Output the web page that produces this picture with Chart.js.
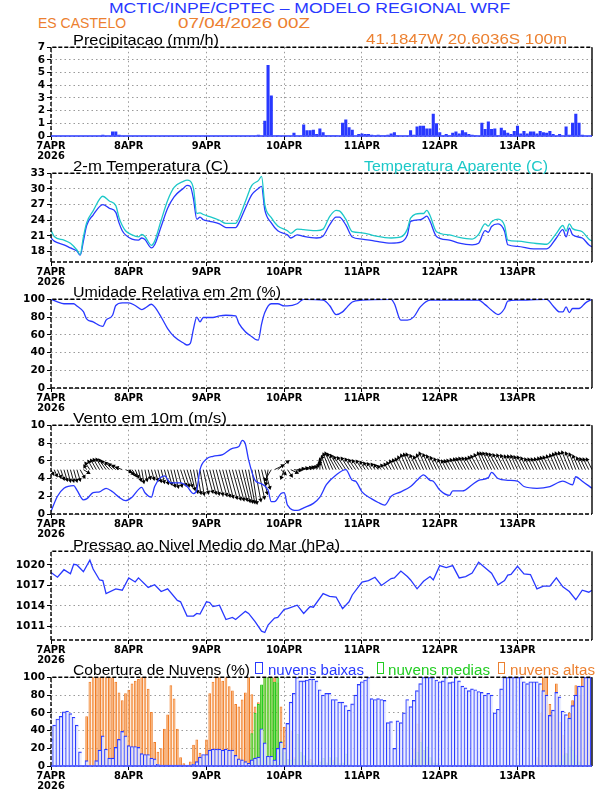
<!DOCTYPE html>
<html>
<head>
<meta charset="utf-8">
<script src="https://cdn.jsdelivr.net/npm/chart.js@4.4.1/dist/chart.umd.min.js"></script>
<style>
body { margin:0; background:#fff; width:612px; height:792px; position:relative; overflow:hidden; }
canvas { position:absolute; left:0; }
.t { position:absolute; white-space:nowrap; font-family:'Liberation Sans', sans-serif; transform-origin:0 50%; line-height:1; z-index:5; }
.box { position:absolute; border:1.5px solid; box-sizing:border-box; z-index:5; }
</style>
</head>
<body>
<script>
// x axis: hours since 07/04/2026 00Z
const dayTicks = [0, 24, 48, 72, 96, 120, 144];
const dayLabels = ['7APR', '8APR', '9APR', '10APR', '11APR', '12APR', '13APR'];
const yearLabel = '2026';

// precipitacao (mm/h), hourly 0..167
const precip = [
  0,0,0,0,0,0,0,0,0,0,0,0,0,0,0,0,0.1,0,0,0.35,0.35,0.1,0,0,
  0,0,0,0,0,0,0,0,0,0,0,0,0,0,0,0,0,0,0,0,0,0,0,0,
  0,0,0,0,0,0,0,0,0,0,0,0,0,0,0,0,0.1,0,1.2,5.6,3.2,0,0.05,0,
  0,0,0,0.25,0,0,0.9,0.45,0.45,0.5,0.15,0.6,0.3,0.05,0.05,0.05,0.05,0,1.05,1.3,0.7,0.5,0,0.15,
  0.2,0.15,0.15,0.1,0.05,0.1,0.05,0.05,0.1,0.2,0.3,0.05,0,0,0,0.45,0.1,0.75,0.8,0.8,0.6,0.6,1.75,1.0,
  0.3,0.05,0.15,0.05,0.25,0.35,0.2,0.45,0.3,0.15,0.1,0.05,0,1.05,0.55,1.15,0.55,0.6,0.05,0.65,0.45,0.25,0.15,0.4,
  0.8,0.2,0.4,0.2,0.35,0.35,0.2,0.4,0.3,0.25,0.4,0.15,0,0.15,0,0.75,0.1,1.05,1.75,1.05,0.1,0,0,0
];

// temperatura 2m e aparente (C)
const tempHours = [0,1,4,6,8,9,10,11,13,16,18,20,21,22,23,25,27,28,29,31,32,34,36,38,41,42,43,44,45,46,47,49,52,54,57,58,60,62,64,65,66,68,70,73,74,76,78,82,84,86,88,89,91,93,96,100,105,108,110,111,114,115,116,117,119,123,126,130,132,134,135,136,138,140,141,144,149,153,156,158,159,160,161,164,166,167];
const temp2m = [20.6,20.0,19.3,18.7,18.1,17.3,20.0,23.0,25.0,27.0,26.3,25.5,23.5,22.0,21.2,20.4,20.2,20.6,20.3,18.7,19.3,22.8,26.3,28.5,30.2,30.7,30.5,28.0,24.2,24.6,24.1,23.8,23.3,22.6,22.6,23.5,26.3,28.9,30.1,30.5,26.0,23.5,22.0,21.2,20.6,21.2,20.9,20.6,21.0,23.1,24.6,24.6,23.1,20.8,20.4,20.0,19.6,19.8,21.2,23.8,24.1,24.4,24.8,23.8,20.9,20.2,19.6,19.3,19.6,22.0,21.7,22.8,23.3,21.9,19.3,19.0,18.5,18.5,20.6,22.2,20.8,22.5,21.2,20.6,19.3,18.9];
const tempAparente = [22.1,20.9,20.2,19.6,18.3,17.4,20.8,23.5,25.8,28.6,27.7,26.8,24.5,23.0,22.0,21.2,20.8,21.3,20.9,19.2,20.0,24.0,27.8,30.3,31.5,31.7,31.5,30.0,25.3,25.4,25.1,24.7,24.0,23.4,23.4,24.4,27.6,30.7,31.6,32.4,27.0,24.5,22.9,22.0,21.5,22.3,22.2,22.0,22.3,24.7,25.9,25.8,24.2,21.8,21.6,21.0,20.6,20.8,22.3,24.4,25.3,25.3,25.9,24.9,21.8,21.2,20.7,20.4,21.3,23.3,22.9,23.7,24.2,23.0,20.2,20.0,19.6,19.4,21.5,23.0,21.9,23.3,22.4,21.8,20.4,20.0];

// umidade relativa (%)
const rhHours = [0,2,4,7,8,10,11,13,16,17,19,20,22,24,26,28,29,31,32,34,36,38,41,42,43,44,45,46,47,50,52,54,57,58,60,62,63,64,65,66,68,70,72,73,76,78,84,86,88,90,91,93,96,105,106,108,110,112,114,117,124,132,134,136,138,140,141,144,153,155,157,158,159,160,161,163,165,167];
const rh2m = [100,97,95,95,92.5,86,78,74.6,69.5,76.5,82,93,96,96,93,88.4,90,94.4,91.4,80,67,58,50.4,48.5,50.4,67,80,74.6,79.5,79.5,81.3,82,81.3,72.8,63.4,57.8,55,54,72,85,95,95,92.5,92.5,95,100,99,93,82.8,85.8,89.6,97,99,100,95,76.5,76.5,80.2,91.4,99,99,99,94,87.7,82.8,89.6,98,99,100,92.5,85.8,85.8,91.4,85,89.6,89.6,96,100];

// vento 10m: velocidade (m/s)
const windHours = [0,2,4,7,8,10,11,13,15,17,19,21,23,25,28,29,31,32,35,37,40,42,44,45,46,48,50,53,56,58,59,60,61,63,65,67,68,69,71,72,73,76,78,81,83,85,88,91,93,94,96,99,101,103,105,108,111,113,115,117,118,120,123,124,127,130,132,135,136,138,141,144,146,150,154,158,161,162,164,167];
const windSpeed = [0.3,2.0,2.9,3.2,2.7,1.6,1.7,2.4,2.5,2.9,2.5,1.9,1.5,1.9,3.0,2.4,1.9,3.1,4.3,3.5,3.5,3.1,2.3,2.7,5.0,6.2,6.5,6.7,7.4,7.6,8.3,7.9,6.1,3.8,3.4,2.7,1.4,1.4,2.3,2.4,1.0,0.4,0.7,1.2,1.9,3.3,4.4,5.0,3.8,3.7,2.5,1.7,1.3,1.0,2.0,2.5,3.1,3.8,4.4,3.8,3.7,2.7,2.1,2.6,2.6,3.3,3.8,4.1,4.7,4.0,3.8,3.7,3.1,2.9,3.1,3.7,3.3,4.2,3.7,2.9];

// vento 10m: componentes dos vetores (m/s), hourly 0..167
const windU = [
  0.5,0.6,0.75,0.75,0.75,0.75,0.75,0.75,0.75,1.0,1.25,-0.5,-1.0,-1.1,-1.25,-1.4,-1.5,-1.6,-1.75,-1.6,-1.5,-1.4,-1.25,1.2,
  1.0,0.9,0.75,0.6,0.5,0.5,0.5,0.6,0.75,0.75,0.75,0.9,1.0,1.0,1.0,1.1,1.25,1.25,1.25,1.1,1.0,1.0,1.0,1.25,
  1.5,1.5,1.5,1.6,1.75,1.75,1.75,1.9,2.0,2.0,2.0,1.9,1.75,1.5,1.25,1.4,1.5,1.4,1.25,-0.5,-1.5,2.0,2.5,1.0,
  -0.75,1.0,1.5,1.5,1.5,1.6,1.75,1.6,1.5,1.2,0.75,0.0,-0.75,-1.1,-1.5,-1.8,-2.0,-2.0,-2.0,-1.9,-1.75,-1.6,-1.5,-1.4,
  -1.25,-1.1,-1.0,-0.9,-0.75,-0.75,-0.75,-0.75,-0.75,-0.9,-1.0,-1.1,-1.25,-1.4,-1.5,-1.6,-1.75,-1.6,-1.5,-1.6,-1.75,-1.6,-1.5,-1.4,
  -1.25,-1.1,-1.0,-1.1,-1.25,-1.25,-1.25,-1.4,-1.5,-1.5,-1.5,-1.6,-1.75,-1.75,-1.75,-1.9,-2.0,-2.0,-2.0,-1.9,-1.75,-1.6,-1.5,-1.5,
  -1.5,-1.5,-1.5,-1.4,-1.25,-1.25,-1.25,-1.25,-1.25,-1.4,-1.5,-1.5,-1.5,-1.6,-1.75,-1.75,-1.75,-1.6,-1.5,-1.4,-1.25,-1.25,-1.25,-1.25
];
const windV = [
  -1.0,-1.4,-1.75,-2.2,-2.5,-2.7,-2.75,-2.7,-2.5,-1.8,-0.75,0.8,1.5,2.0,2.25,2.4,2.5,2.3,2.0,1.6,1.25,0.9,0.5,-0.5,
  -1.0,-1.4,-1.75,-2.5,-3.0,-2.5,-2.0,-2.2,-2.5,-2.8,-3.0,-3.3,-3.5,-4.0,-4.25,-4.0,-3.75,-3.9,-4.0,-4.8,-5.5,-5.8,-6.0,-5.7,
  -5.5,-5.8,-6.0,-6.1,-6.25,-6.5,-6.75,-7.0,-7.25,-7.4,-7.5,-7.8,-8.0,-8.1,-8.25,-7.6,-7.0,-5.8,-4.5,-3.5,-2.5,1.0,2.0,-1.0,
  -2.0,-1.5,-0.75,-0.2,0.25,0.4,0.5,0.6,0.75,1.1,1.5,2.0,2.5,3.1,3.75,4.0,3.75,3.4,3.0,2.9,2.75,2.5,2.25,2.1,
  2.0,1.75,1.5,1.4,1.25,1.0,0.75,1.0,1.25,1.6,2.0,2.25,2.5,3.0,3.5,3.7,3.75,3.4,3.0,3.5,4.0,3.6,3.25,2.9,
  2.5,2.25,2.0,2.1,2.25,2.4,2.5,2.6,2.75,2.75,2.75,3.0,3.25,3.6,4.0,4.0,4.0,3.9,3.75,3.6,3.5,3.4,3.25,3.25,
  3.25,3.1,3.0,2.75,2.5,2.5,2.5,2.6,2.75,2.9,3.0,3.25,3.5,3.75,4.0,4.1,4.25,4.0,3.75,3.25,2.75,2.6,2.5,2.5
];

// pressao ao nivel medio do mar (hPa)
const presHours = [0,2,4,6,7,8,10,12,13,15,16,17,20,22,24,26,27,30,32,34,36,39,40,42,44,45,46,48,49,50,52,54,56,57,60,61,63,65,66,67,69,70,72,73,76,78,80,81,84,86,88,90,92,93,96,98,100,102,105,106,108,110,111,113,115,117,118,120,122,124,126,128,130,132,134,136,138,140,141,142,144,146,148,150,152,154,156,158,160,162,164,166,167];
const pressure = [1018.9,1018.2,1019.3,1018.7,1020.1,1020.0,1019.0,1020.7,1019.4,1017.8,1017.7,1015.8,1016.5,1016.3,1018.1,1017.5,1018.1,1016.7,1017.1,1016.1,1016.5,1014.8,1014.6,1012.5,1012.5,1012.9,1012.8,1014.6,1014.5,1013.9,1014.1,1012.0,1012.3,1012.0,1013.2,1012.9,1011.7,1010.3,1010.1,1011.2,1012.2,1012.3,1013.5,1013.6,1014.1,1012.9,1013.9,1013.8,1015.8,1015.4,1015.3,1013.6,1014.6,1015.6,1017.5,1017.7,1018.2,1017.0,1018.0,1018.1,1019.1,1018.3,1017.8,1016.5,1017.6,1018.3,1017.8,1019.9,1019.6,1019.9,1018.1,1018.3,1018.8,1020.4,1019.6,1018.8,1017.1,1017.7,1018.5,1018.6,1019.8,1018.7,1018.6,1016.5,1016.9,1016.9,1018.1,1016.8,1016.1,1014.9,1016.3,1016.0,1016.3];

// cobertura de nuvens (%), hourly 0..167
const cloudLow = [
  30,46,53,56,61,62,59,55,46,16,0,6,0,0,6,18,34,19,9,9,21,30,39,34,
  23,22,22,21,14,13,13,9,8,2,1,1,1,1,1,1,1,1,1,1,2,5,10,13,
  13,18,19,19,19,18,19,18,18,12,8,7,5,3,7,9,10,42,26,11,11,7,20,27,
  20,48,72,82,100,96,96,97,98,98,96,86,80,82,82,75,75,72,72,68,63,70,80,92,
  95,97,100,76,75,76,75,74,49,50,20,51,49,60,75,67,74,85,93,100,100,100,100,97,
  95,96,100,94,95,100,96,90,88,85,87,86,84,83,80,82,80,60,64,87,100,100,100,100,
  100,100,95,93,95,95,95,93,85,80,57,63,83,78,62,58,54,68,80,90,90,100,100,100
];
const cloudMid = [
  0,0,0,0,0,0,0,0,0,0,0,0,0,0,0,0,0,0,0,0,0,0,0,0,
  0,0,0,0,0,0,0,0,0,0,0,0,0,0,0,0,0,0,0,0,0,0,0,0,
  0,0,0,0,0,0,0,0,0,0,0,0,0,0,37,60,70,92,100,100,100,95,100,28,
  16,8,7,8,36,16,12,6,4,3,2,5,9,4,10,5,10,3,4,14,2,0,0,0,
  0,0,0,0,0,0,0,0,0,0,0,0,0,0,0,3,8,16,27,18,22,10,4,3,
  0,0,0,0,0,0,0,0,0,3,3,0,0,0,0,0,0,0,0,0,0,0,0,0,
  0,0,0,0,0,0,0,0,0,0,0,0,3,5,12,14,22,18,12,5,0,0,0,0
];
const cloudHigh = [
  0,0,0,0,0,0,0,0,0,0,0,56,95,100,100,100,100,100,100,100,95,83,74,82,
  86,93,96,98,100,100,87,61,27,16,20,42,58,91,76,42,10,3,0,5,24,30,15,12,
  30,82,95,100,100,96,100,90,85,70,67,75,83,100,81,67,72,91,100,100,100,100,94,67,
  44,8,40,10,0,0,0,0,8,0,0,0,0,0,0,7,0,0,0,0,0,0,0,0,
  0,0,0,0,0,0,0,0,0,0,0,0,0,0,0,0,20,48,38,18,5,0,0,0,
  0,0,0,0,0,0,0,0,0,0,0,0,0,0,0,0,0,0,0,0,0,0,0,0,
  0,0,0,0,0,0,10,60,100,100,70,58,93,50,35,15,60,74,91,80,100,100,100,60
];

const BLUE = 'rgb(40,56,255)';
const CYAN = 'rgb(28,200,200)';
const ORANGE = 'rgb(236,128,48)';
const GREEN = 'rgb(34,205,34)';

const PANEL_TOPS = [47, 173, 299, 425, 551, 677];
const PLOT_H = 89, PAD_T = 8, AXIS_H = 30, Y_W = 51, PAD_R = 20;
const X_MAX = 167;
const xFont = { family: "'Liberation Sans Narrow','DejaVu Sans Condensed',sans-serif", size: 11, weight: 'bold', lineHeight: 0.92 };
const yFont = { family: "'DejaVu Sans',sans-serif", size: 10.5, weight: 'bold' };

const framePlugin = {
  id: 'frame',
  afterDraw(chart, args, opts) {
    const ctx = chart.ctx, a = chart.chartArea;
    ctx.save();
    ctx.lineWidth = 1.4;
    ctx.strokeStyle = '#000';
    ctx.setLineDash([4, 2]);
    ctx.beginPath();
    ctx.moveTo(a.left, a.bottom); ctx.lineTo(a.left, a.top); ctx.lineTo(a.right, a.top);
    ctx.stroke();
    ctx.setLineDash([]);
    ctx.beginPath();
    ctx.moveTo(a.right, a.top); ctx.lineTo(a.right, a.bottom);
    ctx.stroke();
    if (opts.bottom) { ctx.strokeStyle = opts.bottom; } else { ctx.setLineDash([4, 2]); }
    ctx.beginPath();
    ctx.moveTo(a.left, a.bottom); ctx.lineTo(a.right, a.bottom);
    ctx.stroke();
    ctx.restore();
  }
};

function xScale() {
  return {
    type: 'linear', min: 0, max: X_MAX, offset: false,
    afterBuildTicks: s => { s.ticks = dayTicks.map(v => ({ value: v })); },
    afterFit: s => { s.height = AXIS_H; },
    ticks: {
      font: xFont, color: '#000', padding: 1, maxRotation: 0, autoSkip: false,
      callback: v => {
        const i = dayTicks.indexOf(v);
        return i === 0 ? [dayLabels[0], yearLabel] : dayLabels[i];
      }
    },
    grid: { offset: false, color: '#9a9a9a', lineWidth: 1, tickLength: 4, tickColor: '#000' },
    border: { display: false, dash: [1.5, 3] }
  };
}

function yScale(min, max, ticks) {
  return {
    type: 'linear', min: min, max: max,
    afterBuildTicks: s => { s.ticks = ticks.map(v => ({ value: v })); },
    afterFit: s => { s.width = Y_W; },
    ticks: { font: yFont, color: '#000', padding: 2, autoSkip: false, callback: v => String(v) },
    grid: { color: '#9a9a9a', lineWidth: 1, tickLength: 4, tickColor: '#000' },
    border: { display: false, dash: [1.5, 3] }
  };
}

function panel(i, type, datasets, yOpts, bottomColor) {
  const cv = document.createElement('canvas');
  const h = PAD_T + PLOT_H + AXIS_H;
  cv.width = 612; cv.height = h;
  cv.style.top = (PANEL_TOPS[i] - PAD_T) + 'px';
  cv.style.width = '612px'; cv.style.height = h + 'px';
  document.body.appendChild(cv);
  return new Chart(cv, {
    type: type,
    data: { datasets: datasets },
    options: {
      responsive: false, animation: false, events: [],
      layout: { padding: { top: PAD_T, right: PAD_R, left: 0, bottom: 0 } },
      scales: { x: xScale(), y: yOpts },
      plugins: { legend: { display: false }, tooltip: { enabled: false }, frame: { bottom: bottomColor } }
    },
    plugins: [framePlugin]
  });
}

const pts = (xs, ys) => xs.map((x, k) => ({ x: x, y: ys[k] }));
const hourly = ys => ys.map((y, k) => ({ x: k, y: y }));
const lineDs = (data, color, extra) => Object.assign({
  data: data, borderColor: color, borderWidth: 1.3, pointRadius: 0,
  cubicInterpolationMode: 'monotone', fill: false
}, extra || {});

// 1. precipitacao
panel(0, 'bar', [{
  data: hourly(precip), backgroundColor: BLUE, borderWidth: 0,
  barPercentage: 0.95, categoryPercentage: 1
}], yScale(0, 7, [0, 1, 2, 3, 4, 5, 6, 7]), BLUE);

// 2. temperatura
panel(1, 'line', [
  lineDs(pts(tempHours, tempAparente), CYAN),
  lineDs(pts(tempHours, temp2m), BLUE)
], yScale(16, 33, [18, 21, 24, 27, 30, 33]));

// 3. umidade relativa
panel(2, 'line', [lineDs(pts(rhHours, rh2m), BLUE)], yScale(0, 100, [0, 20, 40, 60, 80, 100]));

// 4. vento
const ARROW_PX = 4;                       // pixels per m/s on screen
const kx = ARROW_PX / (541 / X_MAX);      // hours per m/s
const ky = ARROW_PX / (PLOT_H / 10);      // axis units per m/s
const shafts = [], heads = [], headRot = [];
windU.forEach((u, t) => {
  const v = windV[t];
  const tx = t + u * kx, ty = 5 + v * ky;
  shafts.push({ x: t, y: 5 }, { x: tx, y: ty }, { x: t, y: null });
  heads.push({ x: tx, y: ty });
  headRot.push(Math.atan2(u, v) * 180 / Math.PI);
});
panel(3, 'line', [
  lineDs(pts(windHours, windSpeed), BLUE),
  { data: shafts, borderColor: '#000', borderWidth: 0.9, pointRadius: 0, tension: 0, spanGaps: false },
  { data: heads, showLine: false, pointStyle: 'triangle', pointRadius: 2.6, pointRotation: headRot,
    backgroundColor: '#000', borderColor: '#000', borderWidth: 0 }
], yScale(0, 10, [0, 2, 4, 6, 8, 10]));

// 5. pressao
panel(4, 'line', [lineDs(pts(presHours, pressure), BLUE, { tension: 0, cubicInterpolationMode: 'default' })],
  yScale(1009, 1022, [1011, 1014, 1017, 1020]));

// 6. nuvens
const barDs = (ys, fill, border, order, bw, pct) => ({
  data: hourly(ys), backgroundColor: fill, borderColor: border, borderWidth: bw,
  barPercentage: pct, categoryPercentage: 1, grouped: false, order: order
});
panel(5, 'bar', [
  barDs(cloudLow, 'rgba(232,235,255,0.85)', BLUE, 0, { left: 1, top: 1.2, right: 0, bottom: 0 }, 1),
  barDs(cloudMid, 'rgb(110,232,90)', GREEN, 1, 1, 0.9),
  barDs(cloudHigh, 'rgb(248,165,95)', 'rgb(240,125,40)', 2, 1, 0.85)
], yScale(0, 100, [0, 20, 40, 60, 80, 100]), BLUE);

// textos
function addText(str, x1, x2, cy, size, color) {
  const d = document.createElement('div');
  d.className = 't';
  d.textContent = str;
  d.style.fontSize = size + 'px';
  d.style.color = color;
  d.style.left = x1 + 'px';
  d.style.top = (cy - size * 0.48) + 'px';
  document.body.appendChild(d);
  const w = d.getBoundingClientRect().width;
  d.style.transform = 'scaleX(' + ((x2 - x1) / w).toFixed(3) + ')';
}
function addBox(x, y, w, h, color) {
  const b = document.createElement('div');
  b.className = 'box';
  Object.assign(b.style, { left: x + 'px', top: y + 'px', width: w + 'px', height: h + 'px', borderColor: color });
  document.body.appendChild(b);
}

addText('MCTIC/INPE/CPTEC \u2013 MODELO REGIONAL WRF', 108.7, 510, 8, 14, BLUE);
addText('ES CASTELO', 37.6, 125.7, 22.7, 14, ORANGE);
addText('07/04/2026 00Z', 178, 310, 22.7, 14, ORANGE);
addText('Precipitacao (mm/h)', 73, 219, 40, 14, '#000');
addText('41.1847W 20.6036S 100m', 366, 567, 38.5, 14, ORANGE);
addText('2-m Temperatura (C)', 73, 228.5, 166, 14, '#000');
addText('Temperatura Aparente (C)', 364, 548, 166, 14, CYAN);
addText('Umidade Relativa em 2m (%)', 73, 281, 292, 14, '#000');
addText('Vento em 10m (m/s)', 73, 227, 418, 14, '#000');
addText('Pressao ao Nivel Medio do Mar (hPa)', 73, 340, 545, 14, '#000');
addText('Cobertura de Nuvens (%)', 73, 250, 670, 14, '#000');
addBox(255, 662, 8, 12, BLUE);
addText('nuvens baixas', 268, 364, 670, 14, BLUE);
addBox(377, 662, 7, 12, GREEN);
addText('nuvens medias', 388, 490, 670, 14, GREEN);
addBox(498, 662, 7, 12, ORANGE);
addText('nuvens altas', 510, 595, 670, 14, ORANGE);
</script>
</body>
</html>
